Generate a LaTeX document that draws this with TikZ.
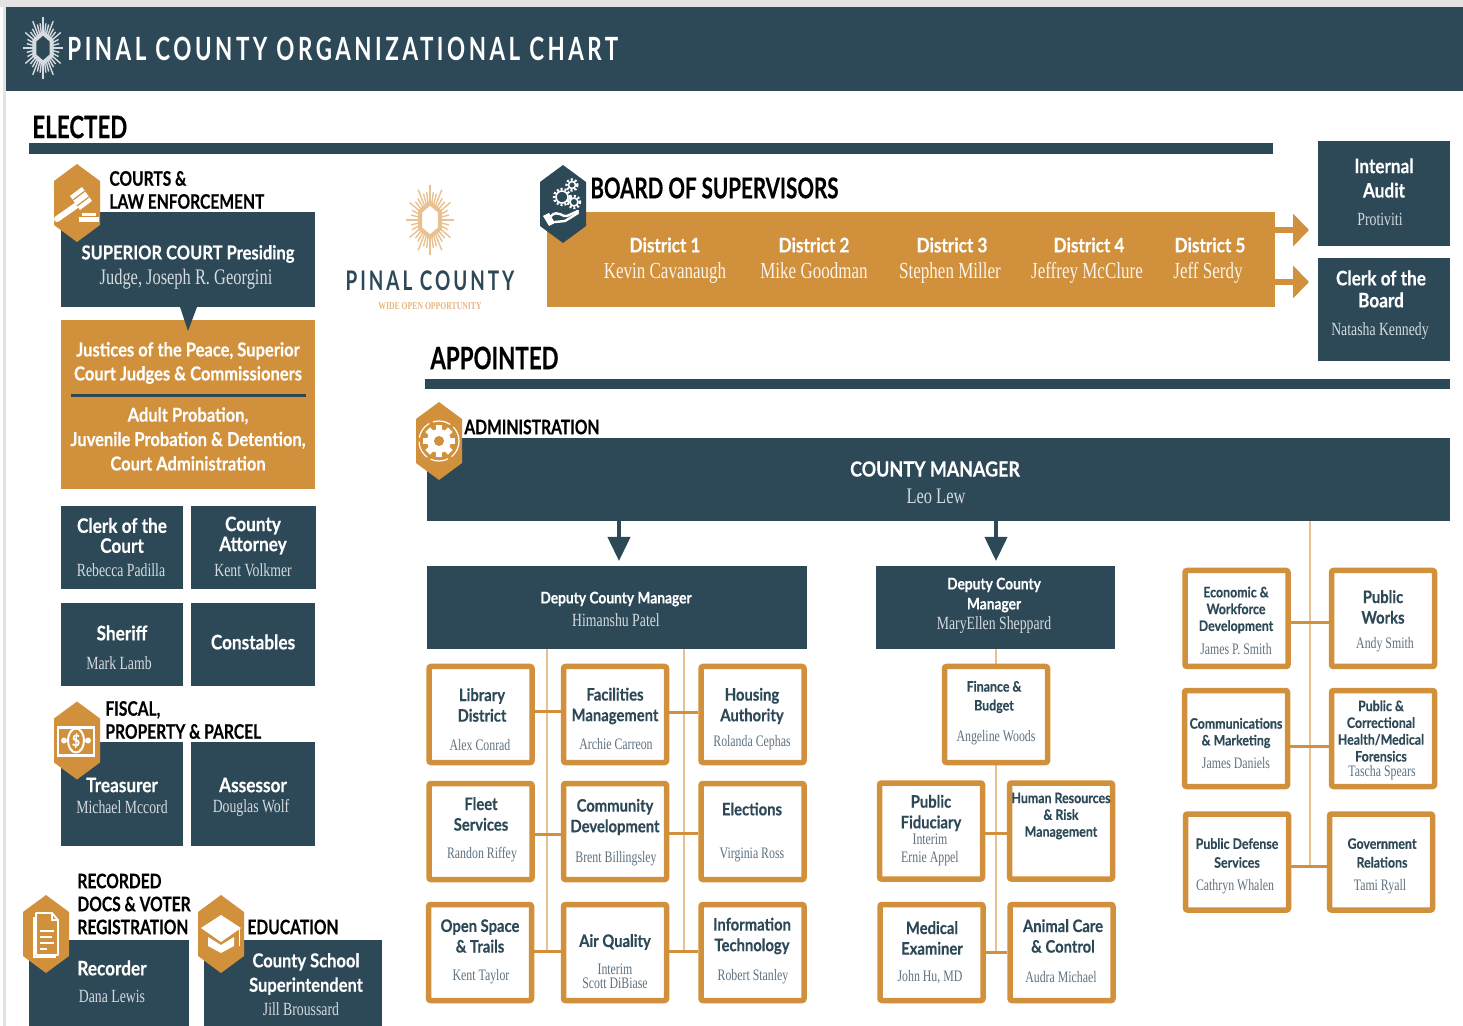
\documentclass[tikz,border=0pt]{standalone}
\usepackage{fontspec}
\usetikzlibrary{arrows.meta}
\newfontfamily\headfont[FakeStretch=0.86, FakeBold=0.3]{Lato}
\newfontfamily\labelfont[FakeStretch=0.78, FakeBold=0.3]{Lato}
\newfontfamily\sectionfont[FakeStretch=0.72, FakeBold=0.3]{Lato}
\newfontfamily\namefont[FakeStretch=0.74]{Liberation Serif}
\newfontfamily\bannerfont[FakeStretch=0.70, LetterSpace=11]{Lato}
\definecolor{CountyNavy}{RGB}{45, 73, 87}
\definecolor{CountyAmber}{RGB}{209, 144, 59}
\definecolor{TrunkAmber}{RGB}{233, 192, 143}
\definecolor{NameGrey}{RGB}{95, 114, 128}
\definecolor{NamePale}{RGB}{213, 219, 223}
\definecolor{EdgeGrey}{RGB}{226, 226, 226}
\tikzset{
    box size/.style 2 args={minimum width=#1*.5pt, minimum height=#2*.5pt},
    navybox/.style={fill=CountyNavy, inner sep=0pt, outer sep=0pt},
    amberbox/.style={fill=CountyAmber, inner sep=0pt, outer sep=0pt},
    unitbox/.style={draw=CountyAmber, fill=white, line width=2.75pt, rounded corners=1pt, inner sep=0pt, box size={103}{96}},
    navytitle/.style={text=white, align=center, inner sep=0pt, font=\headfont\bfseries\fontsize{10}{11}\selectfont},
    courttitle/.style={text=white, align=center, inner sep=0pt, font=\headfont\bfseries\fontsize{9.6}{11}\selectfont},
    navysmall/.style={text=white, align=center, inner sep=0pt, font=\headfont\bfseries\fontsize{8}{10}\selectfont},
    navyname/.style={text=NamePale, align=center, inner sep=0pt, font=\namefont\fontsize{9.3}{10}\selectfont},
    bigname/.style={text=NamePale, align=center, inner sep=0pt, font=\namefont\fontsize{11.1}{12}\selectfont},
    boardname/.style={text=white!90!CountyAmber, inner sep=0pt, text height=.66em, text depth=.22em, font=\namefont\fontsize{11.5}{13}\selectfont},
    unittitle/.style={text=CountyNavy, align=center, inner sep=0pt, font=\headfont\bfseries\fontsize{8.6}{10.3}\selectfont},
    unitsmall/.style={text=CountyNavy, align=center, inner sep=0pt, font=\headfont\bfseries\fontsize{7.2}{8.4}\selectfont},
    unitname/.style={text=NameGrey, align=center, inner sep=0pt, font=\namefont\fontsize{8}{7}\selectfont},
    grouplabel/.style={text=black, align=left, anchor=west, inner sep=0pt, font=\labelfont\bfseries\fontsize{10}{11.5}\selectfont},
    sectionlabel/.style={text=black, anchor=west, inner sep=0pt, font=\sectionfont\bfseries\fontsize{15.5}{17}\selectfont},
    linkthick/.style={draw=CountyAmber, line width=1.5pt},
    trunkline/.style={draw=TrunkAmber, line width=1pt},
    blockarrow/.style={draw=CountyAmber, line width=3pt, -{Triangle[length=8pt, width=16pt]}},
    downarrow/.style={draw=CountyNavy, line width=2pt, -{Triangle[length=12pt, width=11pt]}},
    % hexagon badge behind each icon
    pics/hexbadge/.style={code={
        \fill[#1] (0,-39) -- (23,-22) -- (23,22) -- (0,39) -- (-23,22) -- (-23,-22) -- cycle;
    }},
    % sun mark of the county
    pics/sunmark/.style={code={
        \foreach \a in {0,10,...,350} {
            \pgfmathsetmacro{\rayend}{mod(\a,30)==0 ? 31 : 25}
            \draw[#1, line width=.7pt] (\a:15) -- (\a:\rayend);
        }
        \draw[#1, line width=2pt] (90:15) -- (150:15) -- (210:15) -- (270:15) -- (330:15) -- (30:15) -- cycle;
    }},
    pics/gavelicon/.style={code={
        \draw[white, line width=3pt, line cap=round] (-20,16) -- (0,2);
        \fill[white] (-7,-7) -- (5,-16) -- (15,-2) -- (3,7) -- cycle;
        \draw[CountyAmber, line width=.6pt] (-4,-3) -- (8,-12) (0,3) -- (12,-6);
        \fill[white] (2,14) rectangle (22,19);
        \fill[white] (5,10) rectangle (19,13);
    }},
    pics/handicon/.style={code={
        \foreach \gx/\gy/\gr in {-1/-7/6, 9/-19/3.5, 11/-2/4} {
            \draw[white, line width=.8pt] (\gx,\gy) circle (\gr);
            \draw[white, line width=1.2pt, dash pattern=on 1pt off 1pt] (\gx,\gy) circle (\gr+2);
        }
        \draw[white, line width=1.2pt, line cap=round] (-12,12) .. controls (-5,5) and (0,14) .. (4,12) -- (15,7);
        \draw[white, line width=1.2pt, line cap=round] (-8,18) -- (2,17) -- (15,9);
        \fill[white] (-20,12) -- (-14,9) -- (-8,19) -- (-14,22) -- cycle;
    }},
    pics/gearicon/.style={code={
        \draw[white, line width=.6pt, dash pattern=on 9pt off 2pt] (0,0) circle (20);
        \fill[white] (0,0) circle (12);
        \foreach \a in {0,45,...,315}
            \draw[white, line width=3.2pt] (\a:10) -- (\a:16);
        \fill[CountyAmber] (0,0) circle (5);
    }},
    pics/cashicon/.style={code={
        \fill[white] (-20,-15) rectangle (18,16);
        \fill[CountyAmber] (-18,-12) rectangle (16,13);
        \fill[white] (-13,0) circle (3) (11,0) circle (3);
        \draw[white, line width=1pt] (-1,0) ellipse (8 and 12);
        \node[text=white, inner sep=0pt, font=\headfont\bfseries\fontsize{8}{9}\selectfont] (cashsign) at (-1,0) {\$};
    }},
    pics/pageicon/.style={code={
        \draw[white, line width=.9pt, fill=CountyAmber, line join=round] (-10,-21) -- (6,-21) -- (12,-14) -- (12,21) -- (-10,21) -- cycle;
        \draw[white, line width=.6pt] (6,-21) -- (6,-14) -- (12,-14);
        \draw[white, line width=.6pt] (-12,-17) -- (-12,23) -- (10,23);
        \draw[white, line width=.9pt] (-6,-3) -- (8,-3) (-6,3) -- (6,3) (-6,9) -- (8,9) (-6,15) -- (1,15);
    }},
    pics/capicon/.style={code={
        \fill[white] (-20,-6) -- (0,-19) -- (20,-6) -- (0,8) -- cycle;
        \fill[white] (-13,3) -- (0,11) -- (13,3) -- (13,12) -- (0,19) -- (-13,12) -- cycle;
        \draw[white, line width=.5pt] (18,-5) -- (18,12);
    }}
}

\begin{document}
\begin{tikzpicture}[x=.5pt, y=-.5pt]
    \useasboundingbox (0,0) rectangle (1463,1026);

    % Banda superior
    \fill[EdgeGrey] (0,0) rectangle (1463,7);
    \fill[EdgeGrey] (3,0) rectangle (6,1026);
    \fill[CountyNavy] (6,7) rectangle (1463,91);
    \pic[xscale=.66] at (43,48) {sunmark=NamePale};
    \node[text=white, anchor=west, inner sep=0pt, font=\bannerfont\bfseries\fontsize{16}{18}\selectfont] (banner) at (67,49) {PINAL COUNTY ORGANIZATIONAL CHART};

    % Secciones
    \node[sectionlabel] (elected) at (32,127) {ELECTED};
    \fill[CountyNavy] (29,143) rectangle (1273,154);
    \node[sectionlabel] (appointed) at (430,358) {APPOINTED};
    \fill[CountyNavy] (425,379) rectangle (1450,389);

    % Logo
    \pic[xscale=.76, yscale=1.13] at (430,220) {sunmark=TrunkAmber};
    \node[text=CountyNavy, inner sep=0pt, font=\bannerfont\bfseries\fontsize{13.5}{15}\selectfont] (logoname) at (430,281) {PINAL COUNTY};
    \node[text=TrunkAmber!80!CountyAmber, inner sep=0pt, font=\namefont\bfseries\fontsize{5.2}{6}\selectfont] (logotag) at (430,306) {WIDE OPEN OPPORTUNITY};

    % Cajas oscuras
    \foreach \nm/\cx/\cy/\bw/\bh in {superior/188/259.5/254/95, clerkcourt/122/547.5/122/83, attorney/253.5/547.5/125/83,
        sheriff/122/644.5/122/83, constables/253/644.5/124/83, treasurer/122/794/122/104, assessor/253/794/124/104,
        recorder/109/983/160/86, school/293/983/178/86, audit/1384/193.5/132/105, clerkboard/1384/309.5/132/103,
        manager/938.5/479.5/1023/83, deputyA/617/607.5/380/83, deputyB/995.5/607.5/239/83}
        \node[navybox, box size={\bw}{\bh}] (\nm) at (\cx,\cy) {};

    % Cajas ambar
    \node[amberbox, box size={254}{169}] (courts) at (188,404.5) {};
    \node[amberbox, box size={728}{95}] (board) at (911,259.5) {};
    \fill[CountyNavy] (180,307) -- (197,307) -- (188,331) -- cycle;
    \draw[CountyNavy, line width=1.5pt] (71,396) -- (306,396);

    % Troncos
    \coordinate (trunkA) at (547,951);
    \coordinate (trunkB) at (684,951);
    \coordinate (trunkC) at (996,952);
    \coordinate (trunkD) at (1309.5,866);
    \draw[trunkline] (trunkA |- deputyA.south) -- (trunkA);
    \draw[trunkline] (trunkB |- deputyA.south) -- (trunkB);
    \draw[trunkline] (trunkC |- deputyB.south) -- (trunkC);
    \draw[trunkline] (trunkD |- manager.south) -- (trunkD);

    % Departamentos
    \foreach \nm/\cx/\cy in {library/480.5/714.5, facilities/615/714.5, housing/752.5/714.5,
        fleet/480.5/831.5, community/615/831.5, elections/752.5/831.5,
        openspace/480/952.5, airquality/615/952.5, infotech/752.5/952.5,
        finance/996/714.5, fiduciary/931/831, humanres/1061/831, medical/931.5/952.5, animal/1061.5/952.5,
        economic/1236.5/618.5, works/1383/618.5, comms/1236/738.5, health/1383/738.5, defense/1237/862, relations/1381/862}
        \node[unitbox] (\nm) at (\cx,\cy) {};

    % Conectores
    \foreach \lft/\rgt/\rowy in {library/facilities/711, fleet/community/834, openspace/airquality/951,
        facilities/housing/712, community/elections/833, airquality/infotech/951,
        fiduciary/humanres/833, medical/animal/952,
        economic/works/623, comms/health/746, defense/relations/866} {
        \coordinate (rowlink) at (0,\rowy);
        \draw[linkthick] (\lft.east |- rowlink) -- (\rgt.west |- rowlink);
    }
    \coordinate (arrowA) at (1309,230);
    \coordinate (arrowB) at (1309,282);
    \draw[blockarrow] (board.east |- arrowA) -- (arrowA);
    \draw[blockarrow] (board.east |- arrowB) -- (arrowB);
    \coordinate (dropA) at (619,561);
    \coordinate (dropB) at (996,561);
    \draw[downarrow] (manager.south -| dropA) -- (dropA);
    \draw[downarrow] (manager.south -| dropB) -- (dropB);

    % Titulos sobre fondo oscuro o ambar
    \foreach \nm/\x/\y/\txt in {clerkcourtT/122/535.5/{Clerk of the\\[-1pt]Court}, attorneyT/253/535.5/{County\\[-1pt]Attorney},
        sheriffT/122/633/{Sheriff}, constablesT/253/642/{Constables},
        treasurerT/122/785/{Treasurer}, assessorT/253/785/{Assessor},
        recorderT/112/968/{Recorder},
        auditT/1384/178/{Internal\\[1.2pt]Audit}, clerkboardT/1381/289/{Clerk of the\\Board},
        districtA/665/245/{District 1}, districtB/814/245/{District 2}, districtC/952/245/{District 3},
        districtD/1089/245/{District 4}, districtE/1210/245/{District 5}}
        \node[navytitle] (\nm) at (\x,\y) {\txt};
    \foreach \nm/\x/\y/\txt in {superiorT/188/254/{SUPERIOR COURT Presiding},
        justicesT/188/363/{Justices of the Peace, Superior\\[1pt]Court Judges \& Commissioners},
        probationT/188/439/{Adult Probation,\\[1.2pt]Juvenile Probation \& Detention,\\[1.2pt]Court Administration},
        schoolT/306/974/{County School\\[1.2pt]Superintendent}}
        \node[courttitle] (\nm) at (\x,\y) {\txt};
    \node[navytitle, font=\headfont\bfseries\fontsize{10.4}{12}\selectfont] (managerT) at (935,469) {COUNTY MANAGER};
    \foreach \nm/\x/\y/\txt in {deputyAT/616/599/{Deputy County Manager}, deputyBT/994/595/{Deputy County\\Manager}}
        \node[navysmall] (\nm) at (\x,\y) {\txt};

    % Nombres
    \foreach \nm/\x/\y/\txt in {clerkcourtN/121/570/{Rebecca Padilla},
        attorneyN/253/570/{Kent Volkmer}, sheriffN/119/663/{Mark Lamb}, treasurerN/122/807/{Michael Mccord},
        assessorN/251/808/{Douglas Wolf}, recorderN/112/996/{Dana Lewis}, schoolN/301/1009/{Jill Broussard},
        auditN/1380/219/{Protiviti}, clerkboardN/1380/331/{Natasha Kennedy},
        deputyAN/616/620/{Himanshu Patel}, deputyBN/994/625/{MaryEllen Sheppard}}
        \node[navyname] (\nm) at (\x,\y) {\txt};
    \foreach \nm/\x/\y/\txt in {superiorN/186/279/{Judge, Joseph R. Georgini}, managerN/936/496/{Leo Lew}}
        \node[bigname] (\nm) at (\x,\y) {\txt};
    \foreach \nm/\x/\txt in {memberA/665/{Kevin Cavanaugh}, memberB/814/{Mike Goodman}, memberC/950/{Stephen Miller},
        memberD/1087/{Jeffrey McClure}, memberE/1208/{Jeff Serdy}}
        \node[boardname] (\nm) at (\x,274) {\txt};

    % Departamentos: titulos y nombres
    \foreach \nm/\x/\y/\txt in {libraryT/482/705/{Library\\District}, facilitiesT/615/706/{Facilities\\Management},
        housingT/752/706/{Housing\\Authority}, fleetT/481/814/{Fleet\\Services}, communityT/615/817/{Community\\Development},
        electionsT/752/809/{Elections}, openspaceT/480/936/{Open Space\\\& Trails}, airqualityT/615/942/{Air Quality},
        infotechT/752/936/{Information\\Technology},
        fiduciaryT/931/813/{Public\\Fiduciary}, medicalT/932/938/{Medical\\Examiner}, animalT/1063/936/{Animal Care\\\& Control},
        worksT/1383/607/{Public\\Works}}
        \node[unittitle] (\nm) at (\x,\y) {\txt};
    \foreach \nm/\x/\y/\txt in {financeT/994/697/{Finance \&\\[1pt]Budget}, humanresT/1061/816/{Human Resources\\\& Risk\\Management},
        economicT/1236/610/{Economic \&\\Workforce\\Development}, commsT/1236/733/{Communications\\\& Marketing},
        healthT/1381/731/{Public \&\\Correctional\\Health/Medical\\Forensics}, defenseT/1237/853/{Public Defense\\[1pt]Services},
        relationsT/1382/853/{Government\\[1pt]Relations}}
        \node[unitsmall] (\nm) at (\x,\y) {\txt};
    \foreach \nm/\x/\y/\txt in {libraryN/480/745/{Alex Conrad}, facilitiesN/616/744.5/{Archie Carreon}, housingN/752/743/{Rolanda Cephas},
        fleetN/482/855/{Randon Riffey}, communityN/616/859/{Brent Billingsley}, electionsN/752/855/{Virginia Ross},
        openspaceN/481/977/{Kent Taylor}, airqualityN/615/976/{Interim\\Scott DiBiase}, infotechN/753/977/{Robert Stanley},
        financeN/996/738/{Angeline Woods}, fiduciaryN/930/850/{Interim\\[2pt]Ernie Appel}, medicalN/930/977/{John Hu, MD},
        animalN/1061/977/{Audra Michael}, economicN/1236/649/{James P. Smith}, worksN/1385/645/{Andy Smith},
        commsN/1236/763/{James Daniels}, healthN/1382/773/{Tascha Spears}, defenseN/1235/887/{Cathryn Whalen},
        relationsN/1380/887/{Tami Ryall}}
        \node[unitname] (\nm) at (\x,\y) {\txt};

    % Etiquetas de grupo
    \node[grouplabel] (courtsL) at (109,190) {COURTS \&\\LAW ENFORCEMENT};
    \node[grouplabel] (fiscalL) at (105,720) {FISCAL,\\PROPERTY \& PARCEL};
    \node[grouplabel] (recordedL) at (77,904) {RECORDED\\DOCS \& VOTER\\REGISTRATION};
    \node[grouplabel] (educationL) at (247,927) {EDUCATION};
    \node[grouplabel] (adminL) at (464,427) {ADMINISTRATION};
    \node[sectionlabel, font=\sectionfont\bfseries\fontsize{14.3}{16}\selectfont] (boardL) at (590,188) {BOARD OF SUPERVISORS};

    % Insignias
    \pic at (77,203) {hexbadge=CountyAmber};
    \pic at (77,203) {gavelicon};
    \pic at (563,204) {hexbadge=CountyNavy};
    \pic at (563,204) {handicon};
    \pic at (439,441) {hexbadge=CountyAmber};
    \pic at (439,441) {gearicon};
    \pic at (77,740.5) {hexbadge=CountyAmber};
    \pic at (77,740.5) {cashicon};
    \pic at (46,934) {hexbadge=CountyAmber};
    \pic at (46,934) {pageicon};
    \pic at (221,934) {hexbadge=CountyAmber};
    \pic at (221,934) {capicon};
\end{tikzpicture}
\end{document}
